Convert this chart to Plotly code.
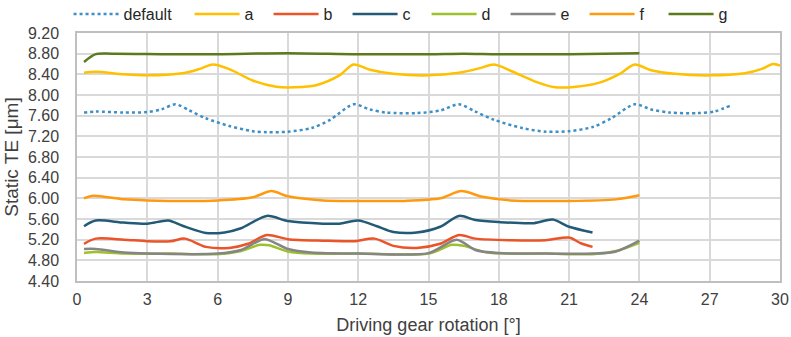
import plotly.graph_objects as go

# ---- data ----
x_default = [0.3, 0.8, 2.0, 3.0, 3.6, 4.2, 4.8, 5.5, 6.5, 7.5, 8.1, 9.0, 10.0, 10.8, 11.8, 12.5, 13.2, 14.5, 15.5, 16.3, 17.0, 17.8, 19.0, 20.0, 21.0, 22.0, 22.8, 23.8, 24.5, 25.3, 26.5, 27.2, 27.9]
y_default = [7.66, 7.68, 7.66, 7.67, 7.72, 7.82, 7.70, 7.55, 7.40, 7.30, 7.28, 7.29, 7.36, 7.52, 7.82, 7.72, 7.66, 7.65, 7.70, 7.82, 7.68, 7.52, 7.36, 7.29, 7.30, 7.38, 7.55, 7.82, 7.72, 7.66, 7.65, 7.68, 7.80]

x_a = [0.3, 0.8, 2.0, 3.0, 4.5, 5.2, 5.8, 6.5, 7.5, 8.5, 9.3, 10.2, 11.2, 11.8, 12.5, 13.5, 15.0, 16.3, 17.2, 17.8, 18.6, 19.5, 20.4, 21.3, 22.3, 23.2, 23.8, 24.5, 25.5, 27.0, 28.5, 29.2, 29.7, 30.0]
y_a = [8.43, 8.45, 8.40, 8.38, 8.42, 8.50, 8.59, 8.50, 8.28, 8.16, 8.15, 8.19, 8.38, 8.59, 8.49, 8.41, 8.38, 8.43, 8.52, 8.59, 8.45, 8.27, 8.15, 8.16, 8.24, 8.42, 8.59, 8.48, 8.41, 8.38, 8.42, 8.50, 8.60, 8.57]

x_b = [0.3, 0.8, 2.0, 3.0, 4.0, 4.6, 5.5, 6.5, 7.3, 8.1, 9.0, 10.5, 11.8, 12.7, 13.5, 14.5, 15.5, 16.3, 17.0, 18.5, 20.0, 21.0, 21.5, 22.0]
y_b = [5.12, 5.22, 5.20, 5.17, 5.17, 5.22, 5.06, 5.04, 5.12, 5.29, 5.21, 5.18, 5.17, 5.22, 5.08, 5.04, 5.12, 5.29, 5.22, 5.19, 5.19, 5.24, 5.13, 5.06]

x_c = [0.3, 0.8, 2.0, 3.0, 3.9, 4.5, 5.5, 6.3, 7.0, 8.1, 9.0, 10.5, 11.2, 12.0, 12.8, 13.5, 14.5, 15.5, 16.3, 17.0, 18.0, 19.5, 20.3, 21.0, 22.0]
y_c = [5.46, 5.57, 5.53, 5.51, 5.57, 5.47, 5.33, 5.34, 5.42, 5.66, 5.56, 5.51, 5.51, 5.57, 5.46, 5.35, 5.34, 5.45, 5.66, 5.58, 5.54, 5.52, 5.59, 5.45, 5.34]

x_d = [0.3, 0.8, 2.0, 4.0, 6.0, 7.0, 7.8, 8.2, 9.0, 10.0, 12.0, 15.0, 16.0, 16.5, 17.5, 18.5, 20.0, 22.0, 23.0, 24.0]
y_d = [4.94, 4.96, 4.93, 4.93, 4.92, 4.98, 5.10, 5.09, 4.97, 4.93, 4.93, 4.93, 5.10, 5.08, 4.95, 4.93, 4.93, 4.92, 4.98, 5.14]

x_e = [0.3, 0.8, 2.0, 3.0, 6.0, 7.0, 8.0, 9.0, 10.0, 12.0, 15.0, 16.2, 17.0, 18.0, 20.0, 22.0, 23.0, 24.0]
y_e = [5.02, 5.02, 4.95, 4.93, 4.93, 5.00, 5.21, 5.02, 4.95, 4.93, 4.94, 5.20, 5.00, 4.94, 4.93, 4.93, 4.97, 5.18]

x_f = [0.3, 0.7, 2.0, 3.0, 6.0, 7.5, 8.3, 9.0, 10.5, 12.0, 14.0, 15.5, 16.4, 17.3, 18.5, 21.0, 23.0, 24.0]
y_f = [6.00, 6.05, 5.98, 5.96, 5.96, 6.02, 6.14, 6.04, 5.96, 5.95, 5.95, 6.00, 6.14, 6.03, 5.96, 5.95, 5.98, 6.06]

x_g = [0.3, 0.8, 1.5, 4.0, 6.0, 9.0, 12.0, 15.0, 16.5, 18.0, 21.0, 24.0]
y_g = [8.64, 8.79, 8.80, 8.79, 8.79, 8.81, 8.79, 8.79, 8.80, 8.79, 8.79, 8.81]

x_ticks = [0, 3, 6, 9, 12, 15, 18, 21, 24, 27, 30]
y_ticks = [4.40, 4.80, 5.20, 5.60, 6.00, 6.40, 6.80, 7.20, 7.60, 8.00, 8.40, 8.80, 9.20]

series = [
    ("default", x_default, y_default, "#3D8FC6", "dot"),
    ("a", x_a, y_a, "#FFC000", "solid"),
    ("b", x_b, y_b, "#EA5428", "solid"),
    ("c", x_c, y_c, "#225A78", "solid"),
    ("d", x_d, y_d, "#9DC12A", "solid"),
    ("e", x_e, y_e, "#858585", "solid"),
    ("f", x_f, y_f, "#FF9A0E", "solid"),
    ("g", x_g, y_g, "#5B7A1C", "solid"),
]

fig = go.Figure()
for name, xs, ys, col, dash in series:
    fig.add_trace(go.Scatter(
        x=xs, y=ys, name=name, mode="lines",
        legendwidth=61 if name == "default" else 19,
        line=dict(color=col, width=2.5, dash=dash, shape="spline", smoothing=0.8),
    ))

font = "Liberation Sans, Arial, sans-serif"
fig.update_layout(
    width=791, height=337,
    margin=dict(l=77, r=11, t=33, b=56, autoexpand=False),
    paper_bgcolor="white", plot_bgcolor="white",
    font=dict(family=font, size=16, color="#404040"),
    showlegend=True,
    legend=dict(orientation="h", x=-0.012, xanchor="left", y=1.145, yanchor="top",
                font=dict(size=16, color="#262626"),
                itemwidth=45, tracegroupgap=0, bgcolor="rgba(0,0,0,0)"),
    xaxis=dict(range=[0, 30], tickvals=x_ticks, ticktext=[str(v) for v in x_ticks],
               automargin=False,
               showgrid=True, gridcolor="#D9D9D9", gridwidth=1.5,
               showline=True, linecolor="#BFBFBF", linewidth=1.5, mirror=True,
               zeroline=False, ticks="", ticklabelstandoff=3,
               tickfont=dict(size=16, color="#404040"),
               title=dict(text="Driving gear rotation [°]", font=dict(size=18, color="#404040"), standoff=11)),
    yaxis=dict(range=[4.40, 9.20], tickvals=y_ticks, ticktext=[f"{v:.2f}" for v in y_ticks],
               automargin=False,
               showgrid=True, gridcolor="#D9D9D9", gridwidth=1.5,
               showline=True, linecolor="#BFBFBF", linewidth=1.5, mirror=True,
               zeroline=False, ticks="", ticklabelstandoff=13,
               tickfont=dict(size=16, color="#404040"),
               title=dict(text="Static TE [μm]", font=dict(size=19, color="#404040"), standoff=4)),
)

fig.write_html("out.html")
